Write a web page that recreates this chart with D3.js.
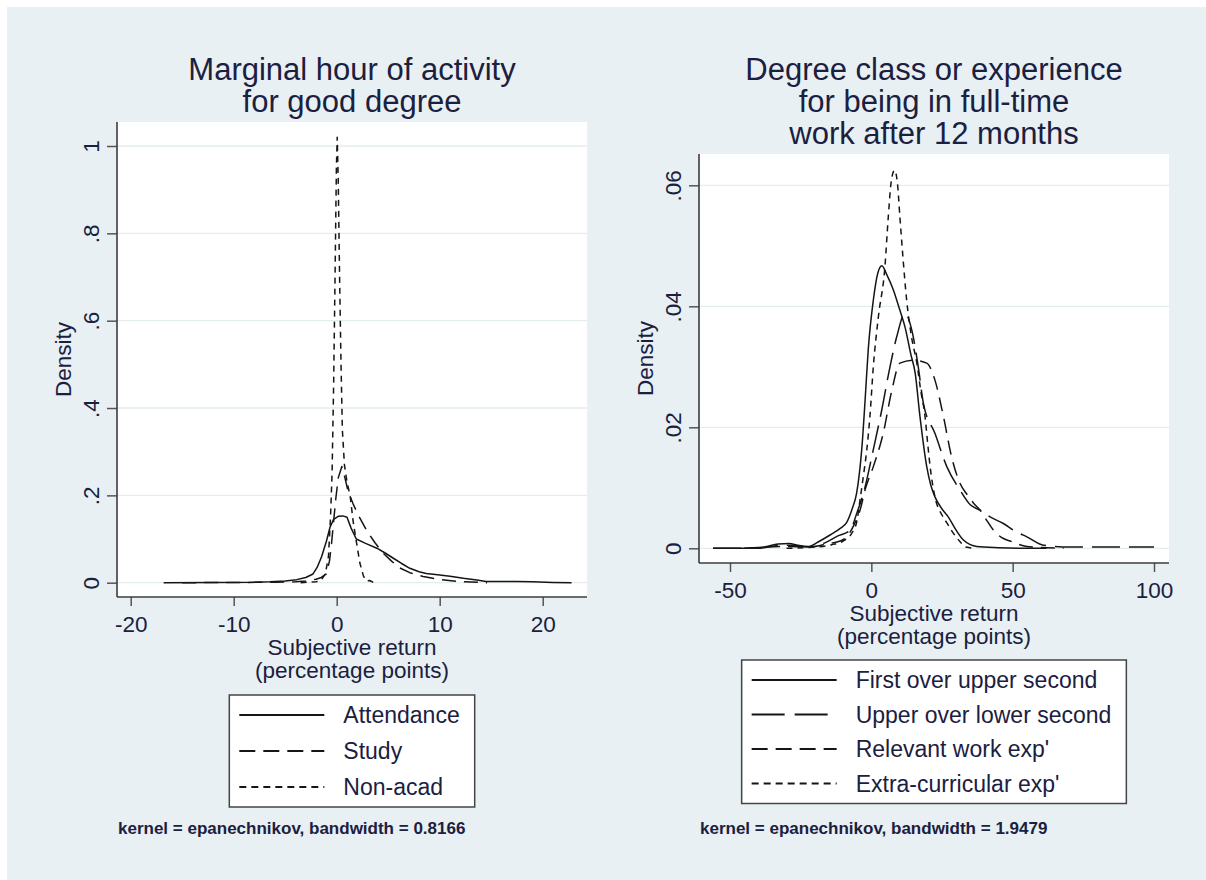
<!DOCTYPE html>
<html>
<head>
<meta charset="utf-8">
<script src="https://cdn.jsdelivr.net/npm/d3@7"></script>
<style>
  body { margin: 0; background: #fff; }
  svg text { font-family: "Liberation Sans", Arial, sans-serif; fill: #1b2040; }
</style>
</head>
<body>
<svg id="chart" width="1206" height="880"></svg>
<script>
// ---- left panel data: marginal hour of activity ----
const leftTitle = ['Marginal hour of activity', 'for good degree'];
const leftTicksX = [-20, -10, 0, 10, 20];
const leftTicksY = [0, 0.2, 0.4, 0.6, 0.8, 1];
const leftTickLabelsY = ['0', '.2', '.4', '.6', '.8', '1'];
const leftNames = ['Attendance', 'Study', 'Non-acad'];
const leftNote = 'kernel = epanechnikov, bandwidth = 0.8166';

const attendance = [[-16.8,0],[-12,0.0005],[-8,0.001],[-6.5,0.002],[-5,0.004],[-3.9,0.007],[-3,0.012],
  [-2.3,0.02],[-1.9,0.035],[-1.46,0.06],[-1,0.095],[-0.65,0.127],[-0.3,0.145],[0.15,0.152],[0.6,0.153],
  [1.0,0.15],[1.4,0.125],[1.9,0.1],[2.8,0.09],[3.9,0.079],[4.7,0.068],[5.5,0.056],[6.3,0.044],[7.1,0.033],
  [8.0,0.025],[8.7,0.021],[9.8,0.018],[11,0.015],[12.3,0.01],[13.6,0.006],[14.5,0.003],[16,0.003],
  [17.5,0.003],[19,0.002],[21,0.0005],[22.8,0]];
const study = [[-15,0],[-10,0.0005],[-6,0.001],[-4,0.002],[-3,0.004],[-2,0.008],[-1.5,0.012],[-1.0,0.02],
  [-0.7,0.05],[-0.5,0.09],[-0.3,0.14],[-0.1,0.19],[0.15,0.24],[0.5,0.266],[0.8,0.24],[1.1,0.21],[1.6,0.18],
  [2.2,0.15],[2.9,0.12],[3.7,0.092],[4.5,0.068],[5.3,0.05],[6.1,0.034],[7.2,0.022],[8.4,0.014],[10,0.007],
  [12.3,0.002],[14.6,0]];
const nonAcad = [[-3.5,0],[-2,0.002],[-1.5,0.006],[-1.1,0.02],[-0.8,0.06],[-0.6,0.15],[-0.45,0.25],
  [-0.3,0.45],[-0.15,0.72],[-0.03,0.95],[0.05,1.02],[0.15,0.92],[0.28,0.7],[0.42,0.5],[0.55,0.35],
  [0.75,0.27],[1.0,0.23],[1.3,0.2],[1.6,0.14],[1.9,0.095],[2.25,0.045],[2.6,0.015],[2.9,0.004],
  [3.2,0.005],[3.6,0]];

// ---- right panel data: degree class or experience ----
const rightTitle = ['Degree class or experience', 'for being in full-time', 'work after 12 months'];
const rightTicksX = [-50, 0, 50, 100];
const rightTicksY = [0, 0.02, 0.04, 0.06];
const rightTickLabelsY = ['0', '.02', '.04', '.06'];
const rightNames = ['First over upper second', 'Upper over lower second', "Relevant work exp'", "Extra-curricular exp'"];
const rightNote = 'kernel = epanechnikov, bandwidth = 1.9479';

const firstOverUpper = [[-56,0],[-45,0],[-38,0.0002],[-33,0.0007],[-29,0.0008],[-26,0.0005],[-22,0.0003],
  [-19,0.001],[-14.6,0.0022],[-11,0.0033],[-8.7,0.0043],[-6.8,0.0065],[-5.2,0.0091],[-4.2,0.0125],
  [-3.4,0.0163],[-2.2,0.0245],[-1.1,0.0328],[0.7,0.041],[2.3,0.0455],[3.7,0.0467],[5.5,0.0452],
  [7.8,0.0427],[10,0.0395],[11.9,0.0366],[14,0.032],[15.5,0.029],[17.2,0.0218],[19.6,0.0135],
  [21,0.0105],[22.5,0.0085],[25,0.0065],[27.2,0.0052],[30,0.003],[32.5,0.0014],[35,0.0006],
  [37.3,0.0003],[45,0.0001],[55,0],[62,0]];
const upperOverLower = [[-56,0],[-40,0],[-32,0.0005],[-28,0.0005],[-22,0.0002],[-17,0.0008],[-12,0.002],
  [-7.5,0.003],[-5,0.006],[-2.8,0.0091],[0.7,0.0163],[3.7,0.0229],[6.6,0.03],[9,0.035],[11.9,0.0388],
  [14.3,0.0361],[16.6,0.03],[18.4,0.024],[22.5,0.019],[26.7,0.0135],[31.4,0.0096],[35,0.0072],
  [38.5,0.0063],[42,0.0052],[46.7,0.0041],[51,0.0028],[55,0.0019],[61,0.0005],[70,0.0002],
  [85,0.0002],[100,0.0002]];
const relevantWork = [[-45,0],[-30,0.0003],[-22,0.0002],[-15,0.0008],[-11,0.0012],[-8.7,0.0019],
  [-6,0.004],[-4,0.0063],[-2,0.01],[0.7,0.0135],[4.2,0.019],[7.2,0.026],[10.1,0.0306],[14.9,0.0311],
  [19.6,0.0306],[22.5,0.0278],[25.5,0.0218],[28.4,0.0151],[31.4,0.0107],[34,0.0088],[36.1,0.0075],
  [38.5,0.0063],[41,0.0045],[43.2,0.003],[46,0.0018],[49.1,0.0012],[55,0.0003],[62,0.0001],[68,0]];
const extraCurricular = [[-30,0],[-20,0.0002],[-14,0.0006],[-10,0.0012],[-6.9,0.0025],[-5.1,0.0045],
  [-4,0.008],[-2.8,0.012],[-1.6,0.0163],[-0.5,0.0218],[0.7,0.03],[2.5,0.0383],[4.8,0.0465],[6,0.0548],
  [7,0.0605],[8.2,0.0625],[9.2,0.0605],[10.1,0.0548],[11.2,0.048],[12.5,0.041],[14.2,0.035],
  [16.1,0.0306],[17.5,0.026],[19,0.0218],[20,0.017],[20.8,0.0135],[22.5,0.0085],[25,0.0055],
  [27,0.004],[29,0.0025],[31.4,0.0011],[33.5,0.0002],[37,0]];

const svg = d3.select('#chart');

// light bluish graph background
svg.append('rect')
    .attr('x', 7).attr('y', 7)
    .attr('width', 1199).attr('height', 873)
    .attr('fill', '#e8f0f3');

function drawPanel(p) {
    const g = svg.append('g');
    const [bx0, by0, bx1, by1] = p.box;
    const cx = (bx0 + bx1) / 2;

    const x = d3.scaleLinear().domain(p.xDomain).range(p.xRange);
    const y = d3.scaleLinear().domain(p.yDomain).range(p.yRange);

    // plot region
    g.append('rect')
        .attr('x', bx0).attr('y', by0)
        .attr('width', bx1 - bx0).attr('height', by1 - by0)
        .attr('fill', '#fff');

    // horizontal grid
    g.selectAll('.grid')
        .data(p.yTicks)
        .enter().append('line')
        .attr('class', 'grid')
        .attr('x1', bx0).attr('x2', bx1)
        .attr('y1', d => y(d)).attr('y2', d => y(d))
        .attr('stroke', '#e3ecef')
        .attr('stroke-width', 1.3);

    // density curves
    const line = d3.line()
        .x(d => x(d[0]))
        .y(d => y(d[1]))
        .curve(p.curve);

    p.series.forEach((s, i) => {
        g.append('path')
            .datum(s)
            .attr('d', line)
            .attr('fill', 'none')
            .attr('stroke', '#151515')
            .attr('stroke-width', 1.5)
            .attr('stroke-linejoin', 'round')
            .attr('stroke-dasharray', p.dashes[i]);
    });

    // axes (plain hyphen for negatives, as in the original)
    const xAxis = g.append('g')
        .attr('transform', `translate(0,${by1})`)
        .call(d3.axisBottom(x).tickValues(p.xTicks).tickFormat(d => String(d)).tickSize(9).tickSizeOuter(0));
    xAxis.select('.domain').remove();
    xAxis.selectAll('line').attr('stroke', '#555').attr('stroke-width', 1.5);
    xAxis.selectAll('text')
        .attr('y', 35).attr('dy', 0)
        .attr('fill', '#1b2040')
        .style('font-size', '22.5px');

    const yAxis = g.append('g')
        .attr('transform', `translate(${bx0},0)`)
        .call(d3.axisLeft(y).tickValues(p.yTicks).tickFormat((d, i) => p.yLabels[i]).tickSize(10).tickSizeOuter(0));
    yAxis.select('.domain').remove();
    yAxis.selectAll('line').attr('stroke', '#555').attr('stroke-width', 1.5);
    yAxis.selectAll('text')
        .attr('x', 0).attr('y', 0).attr('dy', 0)
        .attr('text-anchor', 'middle')
        .attr('transform', 'translate(-18,0) rotate(-90)')
        .attr('fill', '#1b2040')
        .style('font-size', '22.5px');

    // axis lines
    g.append('line')
        .attr('x1', bx0).attr('x2', bx0).attr('y1', by0).attr('y2', by1)
        .attr('stroke', '#3c3c3c').attr('stroke-width', 1.6);
    g.append('line')
        .attr('x1', bx0).attr('x2', bx1).attr('y1', by1).attr('y2', by1)
        .attr('stroke', '#3c3c3c').attr('stroke-width', 1.6);

    // axis titles
    g.append('text')
        .attr('transform', `translate(${bx0 - 46},${(by0 + by1) / 2}) rotate(-90)`)
        .attr('text-anchor', 'middle')
        .style('font-size', '22.5px')
        .text('Density');

    ['Subjective return', '(percentage points)'].forEach((t, i) => {
        g.append('text')
            .attr('x', cx)
            .attr('y', by1 + 58 + i * 23)
            .attr('text-anchor', 'middle')
            .style('font-size', '22.5px')
            .text(t);
    });

    // title
    p.title.forEach((t, i) => {
        g.append('text')
            .attr('x', cx)
            .attr('y', 80 + i * 32)
            .attr('text-anchor', 'middle')
            .style('font-size', '31px')
            .text(t);
    });

    // legend
    const legend = g.append('g');
    const box = legend.append('rect')
        .attr('fill', '#fff')
        .attr('stroke', '#444')
        .attr('stroke-width', 1.5);
    let maxW = 0;
    p.names.forEach((name, i) => {
        const ry = p.legendTop + 20 + i * p.legendStep;
        legend.append('line')
            .attr('class', 'key')
            .attr('y1', ry).attr('y2', ry)
            .attr('stroke', '#151515')
            .attr('stroke-width', 1.8)
            .attr('stroke-dasharray', p.legendDashes[i]);
        const t = legend.append('text')
            .attr('class', 'label')
            .attr('y', ry + 8)
            .style('font-size', '23px')
            .text(name);
        maxW = Math.max(maxW, t.node().getComputedTextLength());
    });
    const boxW = 10 + 85 + 19 + maxW + 15;
    const lx = cx - boxW / 2;
    box.attr('x', lx).attr('y', p.legendTop)
        .attr('width', boxW)
        .attr('height', 20 + (p.names.length - 1) * p.legendStep + 20);
    legend.selectAll('.key').attr('x1', lx + 10).attr('x2', lx + 95);
    legend.selectAll('.label').attr('x', lx + 114);

    // kernel note
    g.append('text')
        .attr('x', bx0 + 1)
        .attr('y', 834)
        .style('font-size', '17px')
        .style('font-weight', 'bold')
        .text(p.note);
}

drawPanel({
    box: [117, 122, 587, 597],
    xDomain: [-20, 20], xRange: [130.7, 542.7],
    yDomain: [0, 1], yRange: [582.7, 146],
    xTicks: leftTicksX, yTicks: leftTicksY, yLabels: leftTickLabelsY,
    series: [attendance, study, nonAcad],
    dashes: [null, '14,8', '6,5'],
    legendDashes: [null, '16,8', '7,5'],
    curve: d3.curveLinear,
    names: leftNames,
    title: leftTitle,
    legendTop: 695, legendStep: 36,
    note: leftNote
});

drawPanel({
    box: [699, 154, 1169, 563],
    xDomain: [-50, 100], xRange: [730, 1154],
    yDomain: [0, 0.06], yRange: [548.3, 185.3],
    xTicks: rightTicksX, yTicks: rightTicksY, yLabels: rightTickLabelsY,
    series: [firstOverUpper, upperOverLower, relevantWork, extraCurricular],
    dashes: [null, '28,9', '14,8', '6,5'],
    legendDashes: [null, '33,10', '16,8', '7,5'],
    curve: d3.curveMonotoneX,
    names: rightNames,
    title: rightTitle,
    legendTop: 660, legendStep: 34.5,
    note: rightNote
});
</script>
</body>
</html>
